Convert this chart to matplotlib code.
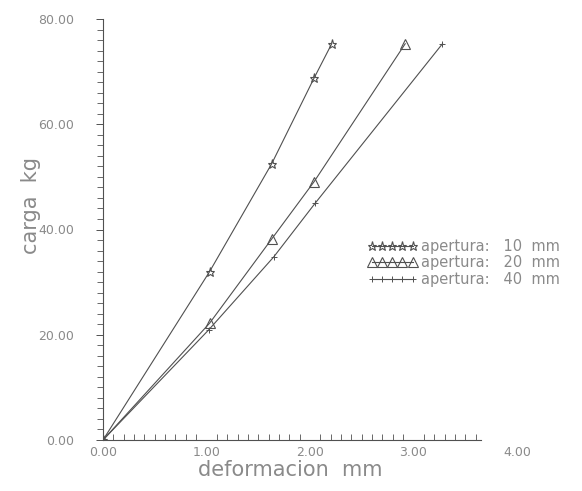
import numpy as np
import matplotlib
matplotlib.use("Agg")
import matplotlib.pyplot as plt
from matplotlib.ticker import FixedLocator, FormatStrFormatter

# deformation (mm) vs load (kg) for three openings
defo_10 = [0.0, 1.03, 1.63, 2.04, 2.21]
carga_10 = [0.0, 32.0, 52.5, 68.8, 75.3]

defo_20 = [0.0, 1.03, 1.63, 2.04, 2.92]
carga_20 = [0.0, 22.2, 38.2, 49.1, 75.3]

defo_40 = [0.0, 1.02, 1.65, 2.05, 3.28]
carga_40 = [0.0, 20.9, 34.8, 45.0, 75.3]

labels = ["apertura:   10  mm", "apertura:   20  mm", "apertura:   40  mm"]
x_ticks = [0, 1, 2, 3, 4]
y_ticks = [0, 20, 40, 60, 80]

TXT = "#8a8a8a"
LINE = "#505050"

fig = plt.figure(figsize=(5.82, 4.91), dpi=100)
ax = fig.add_axes([103 / 582, 51 / 491, 414 / 582, 421 / 491])

ax.plot(defo_10, carga_10, color=LINE, lw=0.8, marker="*", ms=6.5,
        mfc="none", mec=LINE, mew=0.8, label=labels[0])
ax.plot(defo_20, carga_20, color=LINE, lw=0.8, marker="^", ms=7,
        mfc="none", mec=LINE, mew=0.8, label=labels[1])
ax.plot(defo_40, carga_40, color=LINE, lw=0.8, marker="+", ms=4,
        mec=LINE, mew=0.7, label=labels[2])

ax.set_xlim(0, 4)
ax.set_ylim(0, 80)

for s in ["top", "right"]:
    ax.spines[s].set_visible(False)
ax.spines["bottom"].set_bounds(0, 3.65)
ax.spines["bottom"].set_color(LINE)
ax.spines["left"].set_color(LINE)
ax.spines["bottom"].set_linewidth(0.8)
ax.spines["left"].set_linewidth(0.8)

ax.xaxis.set_major_locator(FixedLocator(x_ticks))
ax.xaxis.set_minor_locator(FixedLocator(np.arange(0, 3.65, 0.1)))
ax.yaxis.set_major_locator(FixedLocator(y_ticks))
ax.yaxis.set_minor_locator(FixedLocator(np.arange(0, 81, 2)))
ax.xaxis.set_major_formatter(FormatStrFormatter("%.2f"))
ax.yaxis.set_major_formatter(FormatStrFormatter("%.2f"))

ax.tick_params(axis="x", which="major", length=0, pad=4,
               labelsize=9, labelcolor=TXT)
ax.tick_params(axis="x", which="minor", length=4, width=0.6,
               direction="in", color=LINE)
ax.tick_params(axis="y", which="major", length=5, width=0.7,
               direction="out", pad=16, labelsize=9, labelcolor=TXT, color=LINE)
ax.tick_params(axis="y", which="minor", length=4, width=0.6,
               direction="out", color=LINE)

ax.set_xlabel("deformacion  mm", fontsize=15, color=TXT)
ax.xaxis.set_label_coords(187 / 414, -20 / 421)
ax.set_ylabel("carga  kg", fontsize=15, color=TXT)
ax.yaxis.set_label_coords(-62 / 414, 235 / 421)

leg = ax.legend(loc="center left", bbox_to_anchor=(360 / 582, 1 - 263 / 491),
                bbox_transform=fig.transFigure, frameon=False, numpoints=5,
                handlelength=3.4, handletextpad=0.3, labelspacing=0.12,
                fontsize=10.5, borderpad=0)
for t in leg.get_texts():
    t.set_color(TXT)

fig.savefig("out.png", dpi=100, facecolor="white")
